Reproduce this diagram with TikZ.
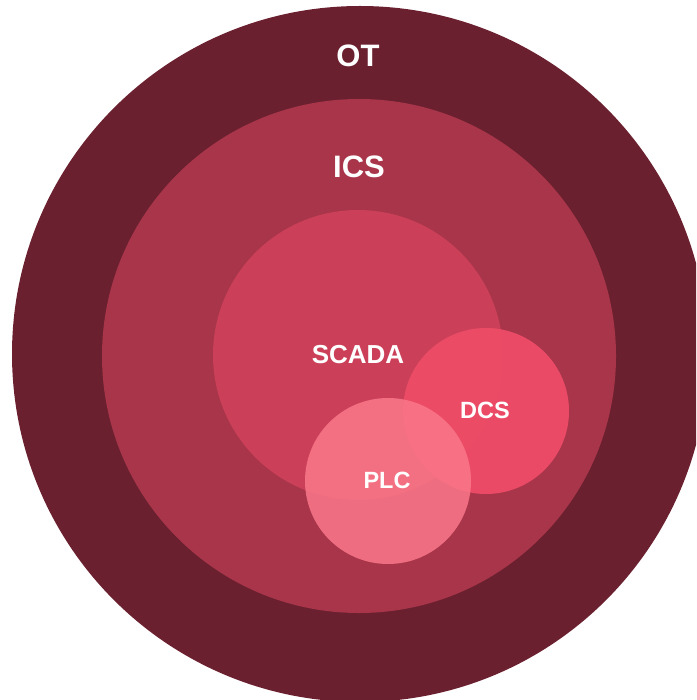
\documentclass[tikz,border=0pt]{standalone}
\usepackage{fontspec}
\setmainfont{Liberation Sans}
\definecolor{otc}{RGB}{107,32,47}
\definecolor{icsc}{RGB}{168,53,74}
\definecolor{scadac}{RGB}{203,64,88}
\definecolor{dcsc}{RGB}{238,76,103}
\definecolor{plcc}{RGB}{250,119,137}
\begin{document}
\begin{tikzpicture}[x=1pt,y=-1pt,
  lbl/.style={text=white,font=\bfseries,inner sep=0pt},
  ring/.style={circle,draw=none,minimum size=#1,inner sep=0pt}]
\useasboundingbox (0,0) rectangle (696,700);
\begin{scope}
\clip (0,0) rectangle (696,700);
\node[ring=696pt,fill=otc] (ot) at (360,354) {};
\node[ring=514pt,fill=icsc] (ics) at (359,356) {};
\node[ring=290pt,fill=scadac] (scada) at (358,355) {};
\node[ring=166pt,fill=dcsc,fill opacity=0.95] (dcs) at (486,411) {};
\node[ring=166pt,fill=plcc,fill opacity=0.86] (plc) at (388,481) {};
\end{scope}
\node[lbl,font=\bfseries\fontsize{31}{31}\selectfont] (tot) at (358,56) {OT};
\node[lbl,font=\bfseries\fontsize{31}{31}\selectfont] (tics) at (359,167) {ICS};
\node[lbl,font=\bfseries\fontsize{26}{26}\selectfont] (tscada) at (358,355) {SCADA};
\node[lbl,font=\bfseries\fontsize{23.5}{23.5}\selectfont] (tdcs) at (485,410) {DCS};
\node[lbl,font=\bfseries\fontsize{23.5}{23.5}\selectfont] (tplc) at (387,480) {PLC};
\end{tikzpicture}
\end{document}
